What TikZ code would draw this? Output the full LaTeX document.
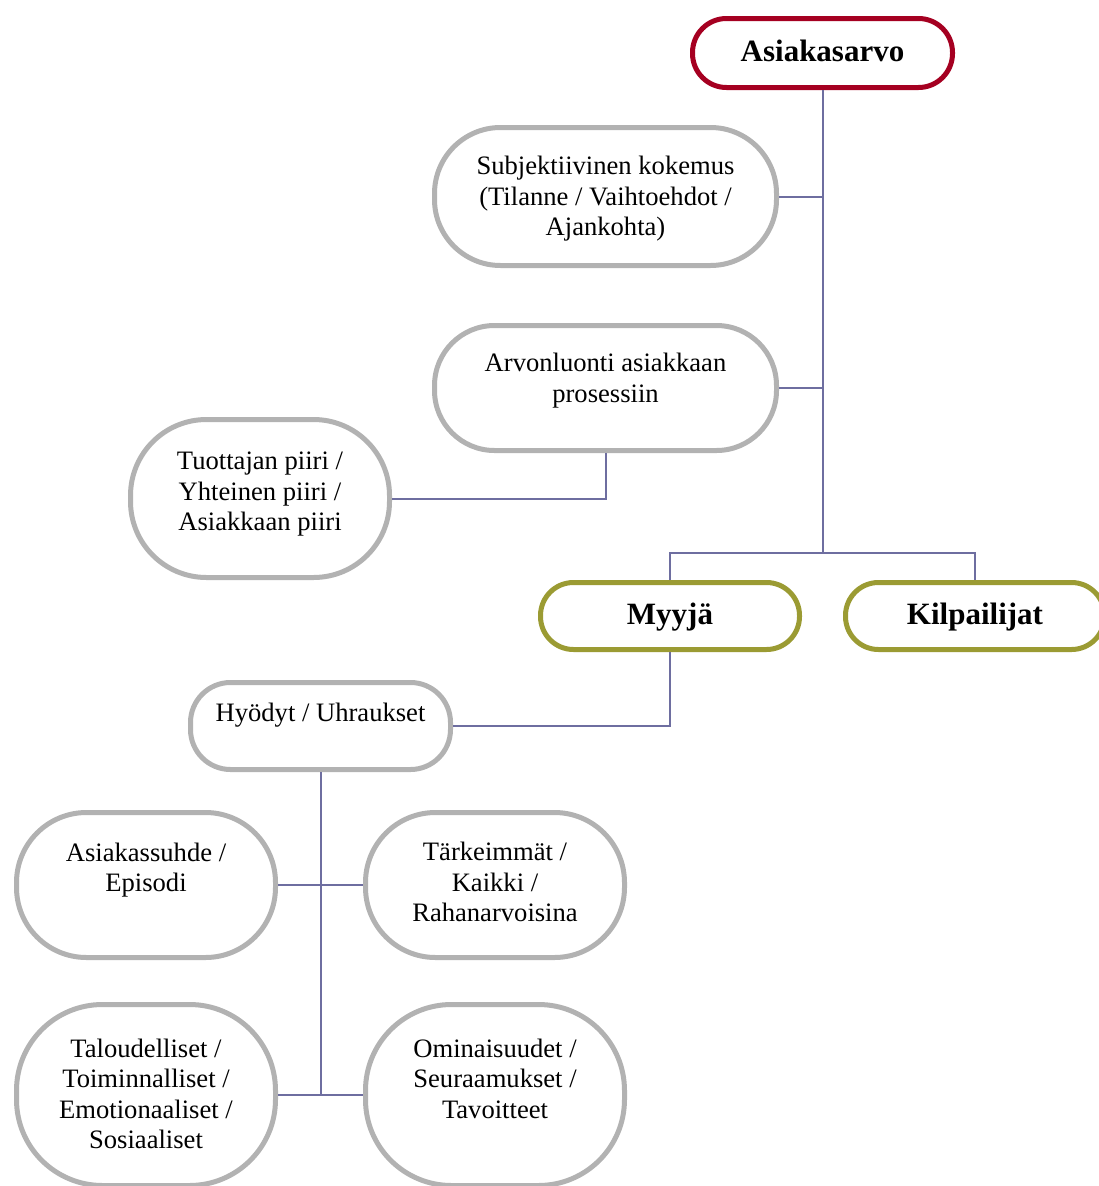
\documentclass[tikz,border=0pt]{standalone}
\usepackage{fontspec}
\setmainfont{Liberation Serif}
\definecolor{boxred}{RGB}{165,0,33}
\definecolor{boxolive}{RGB}{155,155,51}
\definecolor{boxgray}{RGB}{178,178,178}
\definecolor{linkcol}{RGB}{110,110,160}
\tikzset{
  box/.style={draw, line width=5pt, fill=white, rectangle, inner sep=0pt},
  graybox/.style={box, draw=boxgray},
  redbox/.style={box, draw=boxred},
  olivebox/.style={box, draw=boxolive},
  txt/.style={align=center, inner sep=0pt, font=\fontsize{26.6}{30.5}\selectfont},
  bold/.style={inner sep=0pt, font=\fontsize{31}{36}\selectfont\bfseries},
  link/.style={draw=linkcol, line width=2pt}
}
\begin{document}
\begin{tikzpicture}[x=1pt,y=-1pt]
\useasboundingbox (0,0) rectangle (1098,1186);
% boxes
\node[redbox, minimum width=260pt, minimum height=69pt, rounded corners=34pt] (asiak) at (822.5,53) {};
\node[graybox, minimum width=342pt, minimum height=138pt, rounded corners=66pt] (subj) at (605.5,196.5) {};
\node[graybox, minimum width=342pt, minimum height=125pt, rounded corners=60pt] (arvo) at (605.5,388) {};
\node[graybox, minimum width=259pt, minimum height=158pt, rounded corners=76pt] (tuot) at (260,498.5) {};
\node[olivebox, minimum width=259pt, minimum height=67pt, rounded corners=33pt] (myyja) at (670,616) {};
\node[olivebox, minimum width=259pt, minimum height=67pt, rounded corners=33pt] (kilp) at (975,616) {};
\node[graybox, minimum width=260pt, minimum height=87pt, rounded corners=40pt] (hyod) at (320.5,726) {};
\node[graybox, minimum width=259pt, minimum height=145pt, rounded corners=70pt] (asuh) at (146,885) {};
\node[graybox, minimum width=259pt, minimum height=145pt, rounded corners=70pt] (tark) at (495,885) {};
\node[graybox, minimum width=259pt, minimum height=181pt, rounded corners=86pt] (talo) at (146,1095) {};
\node[graybox, minimum width=259pt, minimum height=181pt, rounded corners=86pt] (omin) at (495,1095) {};
% texts
\node[bold] (tasiak) at (822.5,51) {Asiakasarvo};
\node[txt] (tsubj) at (605.5,199) {Subjektiivinen kokemus\\(Tilanne / Vaihtoehdot /\\Ajankohta)};
\node[txt] (tarvo) at (605.5,380.5) {Arvonluonti asiakkaan\\prosessiin};
\node[txt] (ttuot) at (260,494.5) {Tuottajan piiri /\\Yhteinen piiri /\\Asiakkaan piiri};
\node[bold] (tmyyja) at (670,617) {Myyjä};
\node[bold] (tkilp) at (975,617) {Kilpailijat};
\node[txt] (thyod) at (320.5,715) {Hyödyt / Uhraukset};
\node[txt] (tasuh) at (146,870) {Asiakassuhde /\\Episodi};
\node[txt] (ttark) at (495,882) {Tärkeimmät /\\Kaikki /\\Rahanarvoisina};
\node[txt] (ttalo) at (146,1094) {Taloudelliset /\\Toiminnalliset /\\Emotionaaliset /\\Sosiaaliset};
\node[txt] (tomin) at (495,1078.5) {Ominaisuudet /\\Seuraamukset /\\Tavoitteet};
% connectors
\coordinate (j1) at (822.5,553);
\coordinate (j2) at (320.5,1095);
\path[link] (asiak.south) -- (j1);
\path[link] (subj.east) -- (subj.east -| asiak.south);
\path[link] (arvo.east) -- (arvo.east -| asiak.south);
\path[link] (arvo.south) |- (tuot.east);
\path[link] (myyja.north) |- (j1) -| (kilp.north);
\path[link] (myyja.south) |- (hyod.east);
\path[link] (hyod.south) -- (j2);
\path[link] (asuh.east) -- (tark.west);
\path[link] (talo.east) -- (omin.west);
\end{tikzpicture}
\end{document}
